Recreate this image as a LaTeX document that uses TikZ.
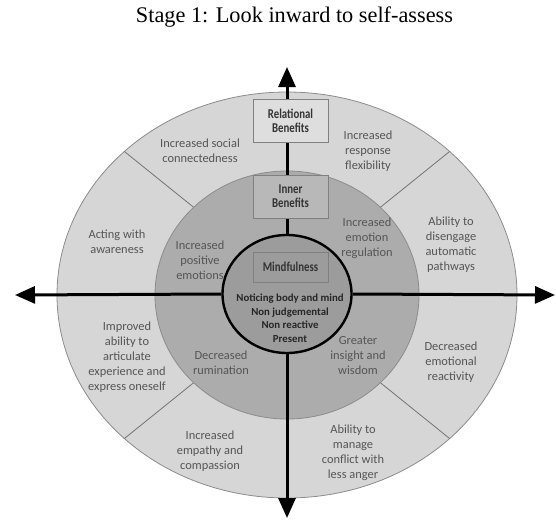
\documentclass[tikz,border=0pt]{standalone}
\usepackage{fontspec}
\setmainfont{Liberation Serif}
\newfontfamily\calfont{Carlito}
\newfontfamily\condfont{Carlito}[FakeStretch=0.8]
\usetikzlibrary{arrows.meta}
\usetikzlibrary{shapes.geometric, math}
\definecolor{ringout}{RGB}{214,214,214}
\definecolor{ringmid}{RGB}{172,172,172}
\definecolor{ringin}{RGB}{156,156,156}
\definecolor{txtgray}{RGB}{85,85,85}

\begin{document}
\begin{tikzpicture}[x=1pt,y=-1pt,
  ringtext/.style={font=\calfont\fontsize{12.4}{15}\selectfont, text=txtgray, align=center, inner sep=0pt},
  headbox/.style={draw=black!50, line width=0.8pt, minimum width=75pt, minimum height=43pt, align=center, font=\condfont\bfseries\fontsize{13.5}{14}\selectfont, text=black!80},
  axis/.style={line width=3pt, -{Triangle[length=20pt,width=17pt]}},
  divider/.style={draw=black!55, line width=0.8pt}]
\tikzmath{
\cx=287;
\cy=295;
\Ra=230;
\Rb=203;
\ra=132;
\rb=124;
}
\useasboundingbox (0,0) rectangle (556,519);
\node[font=\fontsize{22.3}{26}\selectfont] (title) at (294.5,17) {Stage 1: Look inward to self-assess};

% rings
\fill[ringout, draw=black!45, line width=0.8pt] (\cx,\cy) ellipse [x radius=\Ra pt, y radius=\Rb pt];
\foreach \t in {45,135,225,315}
  \draw[divider] ({\cx+\ra*cos(\t)},{\cy-\rb*sin(\t)}) -- ({\cx+\Ra*cos(\t)},{\cy-\Rb*sin(\t)});
\fill[ringmid, draw=black!45, line width=0.8pt] (\cx,\cy) ellipse [x radius=\ra pt, y radius=\rb pt];
\node[ellipse, draw, line width=2.4pt, fill=ringin, minimum width=129pt, minimum height=118pt, inner sep=0pt] (mind) at (\cx,294) {};

% axes
\coordinate (top) at (\cx,67);
\coordinate (bottom) at (\cx,518);
\coordinate (left) at (15,\cy);
\coordinate (right) at (555,\cy);
\draw[axis] (mind.north) -- (top);
\draw[axis] (mind.south) -- (bottom);
\draw[axis] (mind.west) -- (left);
\draw[axis] (mind.east) -- (right);

% headings
\node[headbox, fill=ringout!80!white] (relational) at (290.5,120.5) {Relational\\Benefits};
\node[headbox, fill=ringmid!85!white] (inner) at (290.5,196.5) {Inner\\Benefits};
\node[headbox, fill=ringin, minimum height=30pt] (mindbox) at (290.5,267) {Mindfulness};
\node[align=center, inner sep=0pt, text=black!85, font=\calfont\bfseries\fontsize{10.8}{13.5}\selectfont] (mindtext) at (290,318) {Noticing body and mind\\Non judgemental\\Non reactive\\Present};

% inner benefits
\node[ringtext] (positive) at (200,260) {Increased\\positive\\emotions};
\node[ringtext] (regulation) at (367,238) {Increased\\emotion\\regulation};
\node[ringtext] (rumination) at (221,363) {Decreased\\rumination};
\node[ringtext] (insight) at (358,356) {Greater\\insight and\\wisdom};

% relational benefits
\node[ringtext] (social) at (200,151) {Increased social\\connectedness};
\node[ringtext] (flexibility) at (368,151) {Increased\\response\\flexibility};
\node[ringtext] (awareness) at (117,242) {Acting with\\awareness};
\node[ringtext] (disengage) at (451,245) {Ability to\\disengage\\automatic\\pathways};
\node[ringtext] (articulate) at (127,357) {Improved\\ability to\\articulate\\experience and\\express oneself};
\node[ringtext] (reactivity) at (451,362) {Decreased\\emotional\\reactivity};
\node[ringtext] (empathy) at (210,451) {Increased\\empathy and\\compassion};
\node[ringtext] (conflict) at (353,453) {Ability to\\manage\\conflict with\\less anger};

\end{tikzpicture}
\end{document}
